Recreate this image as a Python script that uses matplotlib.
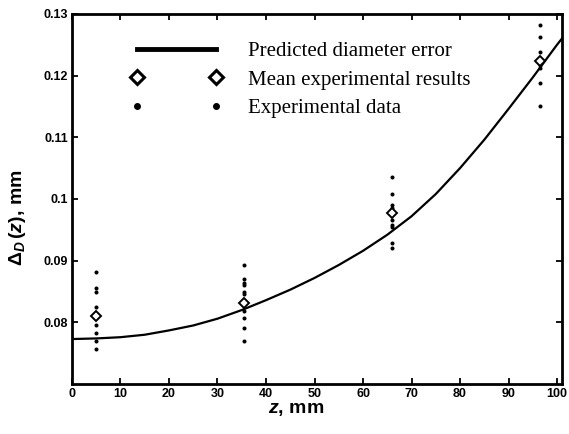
import matplotlib
matplotlib.use('Agg')
from matplotlib import pyplot as plt
from matplotlib.lines import Line2D
from matplotlib.legend_handler import HandlerLine2D

plt.rcParams['mathtext.fontset'] = 'custom'
plt.rcParams['mathtext.rm'] = 'Liberation Sans:bold'
plt.rcParams['mathtext.it'] = 'Liberation Sans:italic:bold'
plt.rcParams['mathtext.bf'] = 'Liberation Sans:bold'

# predicted diameter error curve
z_pred = [0, 5, 10, 15, 20, 25, 30, 35, 40, 45, 50, 55, 60, 65, 70,
          75, 80, 85, 90, 95, 100, 101]
d_pred = [0.0773, 0.0774, 0.0776, 0.0780, 0.0787, 0.0795, 0.0806, 0.0820,
          0.0836, 0.0853, 0.0872, 0.0893, 0.0916, 0.0942, 0.0972, 0.1008,
          0.1050, 0.1096, 0.1146, 0.1197, 0.1250, 0.1260]

# mean experimental results
z_mean = [5, 35.5, 66, 96.5]
d_mean = [0.0810, 0.0832, 0.0978, 0.1223]

# raw experimental data, one list per z position
d_exp_5 = [0.0882, 0.0855, 0.0850, 0.0825, 0.0795, 0.0783, 0.0770, 0.0757]
d_exp_35 = [0.0893, 0.0870, 0.0864, 0.0860, 0.0850, 0.0846, 0.0819, 0.0807,
            0.0791, 0.0770]
d_exp_66 = [0.1036, 0.1008, 0.0990, 0.0985, 0.0966, 0.0958, 0.0954, 0.0928,
            0.0921]
d_exp_96 = [0.1282, 0.1262, 0.1239, 0.1217, 0.1212, 0.1188, 0.1150]
d_exp = [d_exp_5, d_exp_35, d_exp_66, d_exp_96]

x_ticks = [0, 10, 20, 30, 40, 50, 60, 70, 80, 90, 100]
y_ticks = [0.08, 0.09, 0.1, 0.11, 0.12, 0.13]
y_ticklabels = ['0.08', '0.09', '0.1', '0.11', '0.12', '0.13']


fig = plt.figure(figsize=(5.69, 4.34), dpi=100)
ax = fig.add_axes([0.1265, 0.115, 0.861, 0.853])

ax.plot(z_pred, d_pred, color='k', lw=1.6)

for zz, vals in zip(z_mean, d_exp):
    ax.plot([zz] * len(vals), vals, ls='none', marker='o', ms=2.9,
            color='k', mec='none')

ax.plot(z_mean, d_mean, ls='none', marker='D', ms=5, mfc='white',
        mec='k', mew=1.4)

ax.set_xlim(0, 101)
ax.set_ylim(0.07, 0.13)
ax.set_xticks(x_ticks)
ax.set_yticks(y_ticks)
ax.set_yticklabels(y_ticklabels)

for lab in ax.get_xticklabels() + ax.get_yticklabels():
    lab.set_fontfamily('Liberation Sans')
    lab.set_fontweight('bold')
    lab.set_fontsize(9)

ax.tick_params(direction='in', top=True, right=True, length=4, width=1.3,
               pad=3)
for sp in ax.spines.values():
    sp.set_linewidth(2)

ax.set_xlabel(r'$z$, mm', fontfamily='Liberation Sans', fontweight='bold',
              fontsize=14)
ax.xaxis.set_label_coords(0.457, -0.046)
ax.set_ylabel(r'$\Delta_D\,(z)$, mm', fontfamily='Liberation Sans',
              fontweight='bold', fontsize=14)
ax.yaxis.set_label_coords(-0.09, 0.45)

# legend in the matlab style, markers at both ends
h_line = Line2D([], [], color='k', lw=3.5)
h_mean = Line2D([], [], ls='none', marker='D', ms=7.5, mfc='white', mec='k',
                mew=2.2)
h_exp = Line2D([], [], ls='none', marker='o', ms=4, color='k')
hmap = {h: HandlerLine2D(marker_pad=0, numpoints=2)
        for h in (h_line, h_mean, h_exp)}
ax.legend([h_line, h_mean, h_exp],
          ['Predicted diameter error', 'Mean experimental results',
           'Experimental data'],
          handler_map=hmap, loc='upper left', bbox_to_anchor=(0.133, 0.925),
          frameon=False, borderpad=0, borderaxespad=0, handlelength=3.8,
          handletextpad=1.5, labelspacing=0.43,
          prop={'family': 'Liberation Serif', 'size': 15})

fig.savefig('out.png', dpi=100)
